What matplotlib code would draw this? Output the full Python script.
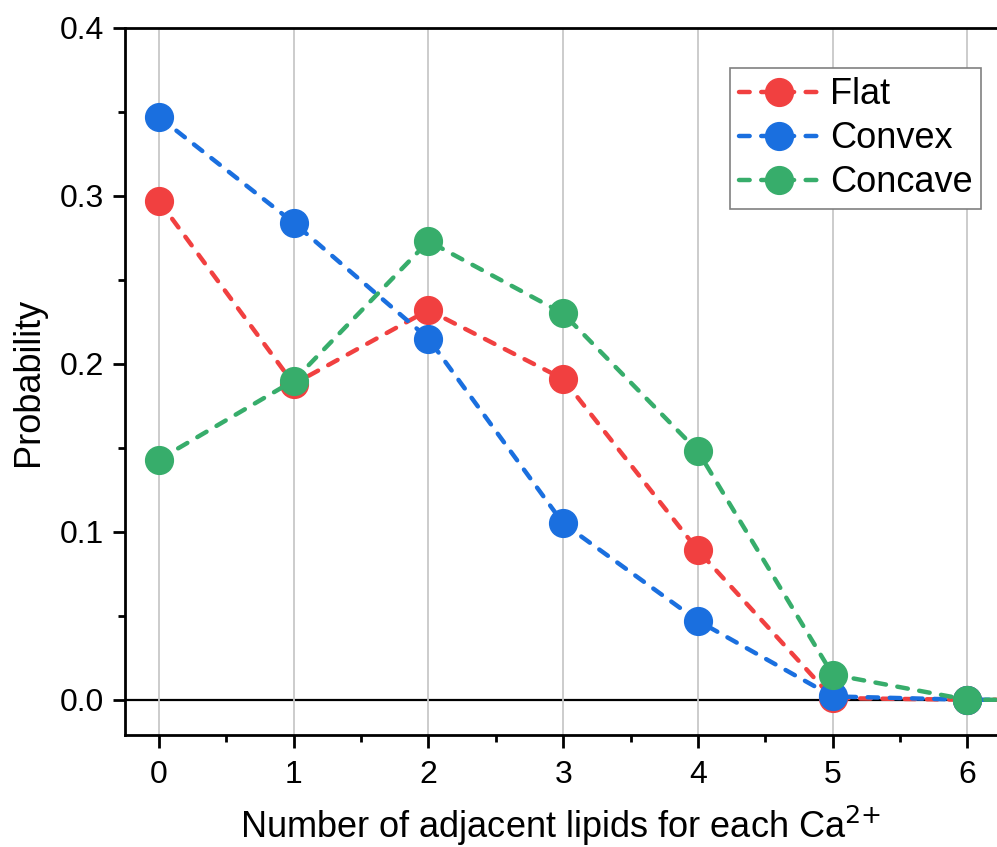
import matplotlib.pyplot as plt
from matplotlib.ticker import MultipleLocator

plt.rcParams['font.family'] = ['Liberation Sans', 'DejaVu Sans']

# donnees
n_lipides = [0, 1, 2, 3, 4, 5, 6, 7]
flat = [0.297, 0.188, 0.232, 0.191, 0.089, 0.001, 0.0, 0.0]
convex = [0.347, 0.284, 0.215, 0.105, 0.047, 0.002, 0.0, 0.0]
concave = [0.143, 0.190, 0.273, 0.230, 0.148, 0.015, 0.0, 0.0]
noms = ['Flat', 'Convex', 'Concave']
couleurs = ['#F14040', '#1A6FDF', '#37AD6B']

fig = plt.figure(figsize=(9.97, 8.47), dpi=100)
ax = fig.add_axes([0.1254, 0.1322, 0.8746, 0.8348])

ax.axhline(0, color='black', lw=1.6, zorder=1)
for serie, nom, c in zip([flat, convex, concave], noms, couleurs):
    ax.plot(n_lipides, serie, ls='--', dashes=(2.4, 2.6), lw=3.2, color=c,
            dash_capstyle='round', marker='o', markersize=20, label=nom, zorder=3)

ax.set_xlim(-0.252, 6.22)
ax.set_ylim(-0.021, 0.4)
ax.xaxis.set_major_locator(MultipleLocator(1))
ax.xaxis.set_minor_locator(MultipleLocator(0.5))
ax.yaxis.set_minor_locator(MultipleLocator(0.05))
ax.set_yticks([0.0, 0.1, 0.2, 0.3, 0.4])
ax.set_yticklabels(['0.0', '0.1', '0.2', '0.3', '0.4'])
ax.grid(axis='x', which='major', color='#C8C8C8', lw=1.3, zorder=0)

for s in ['left', 'bottom', 'top']:
    ax.spines[s].set_linewidth(2.0)
ax.spines['right'].set_visible(False)
ax.tick_params(which='major', direction='out', length=9, width=2.0, labelsize=23, pad=6)
ax.tick_params(which='minor', direction='out', length=5, width=2.0)
ax.tick_params(axis='x', pad=9)

ax.set_xlabel('Number of adjacent lipids for each Ca$^{2{+}}$', fontsize=26, labelpad=10)
ax.set_ylabel('Probability', fontsize=26, labelpad=10)

leg = ax.legend(loc='upper right', bbox_to_anchor=(0.982, 0.943), fontsize=26,
                frameon=True, fancybox=False, edgecolor='#808080', framealpha=1,
                handlelength=2.2, handletextpad=0.3, borderpad=0.25, labelspacing=0.25,
                borderaxespad=0)
leg.get_frame().set_linewidth(1.2)

fig.savefig('out.png', dpi=100)
